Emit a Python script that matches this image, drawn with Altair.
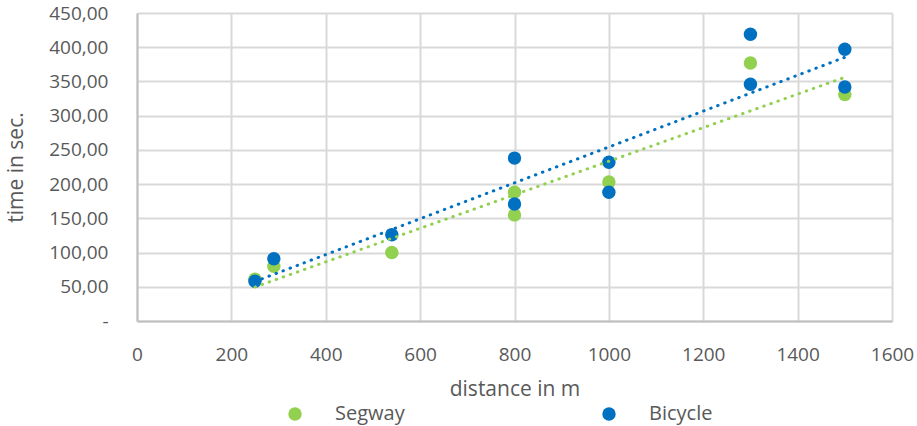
import altair as alt
import pandas as pd

series_names = ["Segway", "Bicycle"]
series_colors = ["#92D050", "#0070C0"]

segway_x = [250, 290, 540, 800, 800, 1000, 1300, 1500]
segway_y = [61, 80, 100, 188, 155, 203, 377, 331]
bicycle_x = [250, 290, 540, 800, 800, 1000, 1000, 1300, 1300, 1500, 1500]
bicycle_y = [58, 91, 126, 238, 171, 232, 188, 419, 346, 397, 342]

x_ticks = list(range(0, 1601, 200))
y_ticks = list(range(0, 451, 50))

rows = [{"series": "Segway", "x": a, "y": b} for a, b in zip(segway_x, segway_y)]
rows += [{"series": "Bicycle", "x": a, "y": b} for a, b in zip(bicycle_x, bicycle_y)]
df = pd.DataFrame(rows)

FONT = "Open Sans"
TXT = "#595959"

xenc = alt.X("x:Q", scale=alt.Scale(domain=[0, 1600], nice=False),
             axis=alt.Axis(values=x_ticks, title="distance in m", labelFontSize=19,
                           titleFontSize=21, titleFontWeight="normal", labelPadding=24,
                           format="d", labelOverlap=False, labelFlush=False, labelBound=False,
                           titleX=377.5, titleY=68, titleBaseline="middle",
                           ticks=False, grid=True, gridColor="#d9d9d9", gridWidth=2,
                           domainColor="#bfbfbf", domainWidth=2, labelColor=TXT,
                           titleColor=TXT, labelFont=FONT, titleFont=FONT))
yenc = alt.Y("y:Q", scale=alt.Scale(domain=[0, 450], nice=False),
             axis=alt.Axis(values=y_ticks, title="time in sec.", labelFontSize=19,
                           titleFontSize=21, titleFontWeight="normal", labelPadding=29,
                           labelOverlap=False, labelBound=False, labelFlush=False, tickCount=10,
                           labelExpr="datum.value == 0 ? '-' : replace(format(datum.value, '.2f'), '.', ',')",
                           titleX=-121, titleY=154, titleAngle=270, titleBaseline="middle",
                           titleAlign="center",
                           ticks=False, grid=True, gridColor="#d9d9d9", gridWidth=2,
                           domainColor="#bfbfbf", domainWidth=2, labelColor=TXT,
                           titleColor=TXT, labelFont=FONT, titleFont=FONT))

color_scale = alt.Scale(domain=series_names, range=series_colors)

points = alt.Chart(df).mark_circle(size=180, opacity=1).encode(
    x=xenc, y=yenc,
    color=alt.Color("series:N", scale=color_scale, sort=series_names,
                    legend=alt.Legend(title=None, orient="none", legendX=148, legendY=391,
                                      direction="horizontal", columns=2, columnPadding=194,
                                      labelOffset=30, symbolSize=180, symbolType="circle",
                                      labelFontSize=20, labelFont=FONT, labelColor=TXT,
                                      symbolStrokeWidth=0)),
    order=alt.Order("series:N", sort="descending"),
)

lines = alt.Chart(df).transform_regression("x", "y", groupby=["series"]).mark_line(
    strokeWidth=3, strokeDash=[0.5, 7], strokeCap="round"
).encode(
    x=xenc, y=yenc,
    color=alt.Color("series:N", scale=color_scale, legend=None),
)

chart = alt.layer(points, lines).properties(
    width=755, height=308,
    autosize=alt.AutoSizeParams(type="none"),
    padding={"left": 137, "top": 13, "right": 25, "bottom": 105},
).configure_view(stroke=None).configure_axis(labelOverlap=False).configure(background="white")

chart.save("out.html", embed_options={"renderer": "svg", "actions": False})
